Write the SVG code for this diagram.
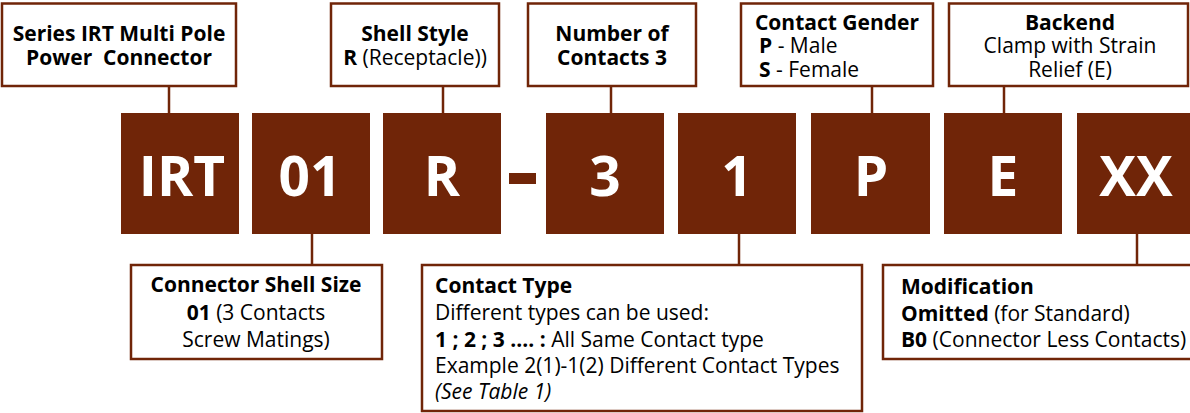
<svg xmlns="http://www.w3.org/2000/svg" width="1190" height="413" viewBox="0 0 1190 413">
<style>
.box{fill:#fff;stroke:#702508;stroke-width:2.5}
.code{fill:#702508}
.big{font-family:"Open Sans","Liberation Sans",sans-serif;font-weight:bold;font-size:55px;fill:#fff;text-anchor:middle}
.t{font-family:"Open Sans","Liberation Sans",sans-serif;font-size:21px;fill:#000}
.c{text-anchor:middle}
.b{font-weight:bold}
.i{font-style:italic}
.ln{stroke:#702508;stroke-width:2.5;fill:none}
</style>
<rect width="1190" height="413" fill="#fff"/>
<g id="connectors">
<line class="ln" x1="169" y1="86" x2="169" y2="113"/>
<line class="ln" x1="443" y1="86" x2="443" y2="113"/>
<line class="ln" x1="611" y1="86" x2="611" y2="113"/>
<line class="ln" x1="872" y1="86" x2="872" y2="113"/>
<line class="ln" x1="1004" y1="86" x2="1004" y2="113"/>
<line class="ln" x1="312" y1="234" x2="312" y2="265"/>
<line class="ln" x1="739" y1="234" x2="739" y2="265"/>
<line class="ln" x1="1137" y1="234" x2="1137" y2="265"/>
</g>
<g id="code-IRT"><rect class="code" x="121" y="113" width="118" height="121"/><text class="big" x="182" y="196">IRT</text></g>
<g id="code-01"><rect class="code" x="252" y="113" width="118" height="121"/><text class="big" x="310" y="196">01</text></g>
<g id="code-R"><rect class="code" x="383" y="113" width="118" height="121"/><text class="big" x="442" y="196">R</text></g>
<g id="code-dash"><rect class="code" x="509" y="173" width="27" height="11"/></g>
<g id="code-3"><rect class="code" x="546" y="113" width="118" height="121"/><text class="big" x="605" y="196">3</text></g>
<g id="code-1"><rect class="code" x="678" y="113" width="118" height="121"/><text class="big" x="737" y="196">1</text></g>
<g id="code-P"><rect class="code" x="811" y="113" width="119" height="121"/><text class="big" x="871" y="196">P</text></g>
<g id="code-E"><rect class="code" x="944" y="113" width="118" height="121"/><text class="big" x="1003" y="196">E</text></g>
<g id="code-XX"><rect class="code" x="1077" y="113" width="118" height="121"/><text class="big" x="1136" y="196">XX</text></g>

<g id="series"><rect class="box" x="2" y="3.5" width="234" height="82.5"/>
<text class="t b c" x="119" y="41">Series IRT Multi Pole</text>
<text class="t b c" x="119" y="65">Power&#160; Connector</text></g>
<g id="shell-style"><rect class="box" x="331" y="3.5" width="168" height="82.5"/>
<text class="t b c" x="415" y="41">Shell Style</text>
<text class="t c" x="415" y="65"><tspan class="b">R</tspan> (Receptacle))</text></g>
<g id="num-contacts"><rect class="box" x="528" y="3.5" width="168" height="82.5"/>
<text class="t b c" x="612" y="41">Number of</text>
<text class="t b c" x="612" y="65">Contacts 3</text></g>
<g id="gender"><rect class="box" x="741" y="3.5" width="192" height="82.5"/>
<text class="t b c" x="837" y="30">Contact Gender</text>
<text class="t" x="759" y="53"><tspan class="b">P</tspan> - Male</text>
<text class="t" x="759" y="77"><tspan class="b">S</tspan> - Female</text></g>
<g id="backend"><rect class="box" x="949" y="3.5" width="239" height="82.5"/>
<text class="t b c" x="1070" y="30">Backend</text>
<text class="t c" x="1070" y="53">Clamp with Strain</text>
<text class="t c" x="1070" y="77">Relief (E)</text></g>

<g id="shell-size"><rect class="box" x="131" y="265" width="251" height="94"/>
<text class="t b c" x="256" y="292">Connector Shell Size</text>
<text class="t c" x="256" y="320"><tspan class="b">01</tspan> (3 Contacts</text>
<text class="t c" x="256" y="347">Screw Matings)</text></g>
<g id="contact-type"><rect class="box" x="422" y="265" width="440" height="146"/>
<text class="t b" x="435" y="293">Contact Type</text>
<text class="t" x="435" y="320">Different types can be used:</text>
<text class="t" x="435" y="347"><tspan class="b">1 ; 2 ; 3 .... :</tspan> All Same Contact type</text>
<text class="t" x="435" y="373">Example 2(1)-1(2) Different Contact Types</text>
<text class="t i" x="435" y="399">(See Table 1)</text></g>
<g id="modification"><rect class="box" x="883" y="265" width="320" height="94"/>
<text class="t b" x="901" y="294">Modification</text>
<text class="t" x="901" y="321"><tspan class="b">Omitted</tspan> (for Standard)</text>
<text class="t" x="901" y="347"><tspan class="b">B0</tspan> (Connector Less Contacts)</text></g>
</svg>
